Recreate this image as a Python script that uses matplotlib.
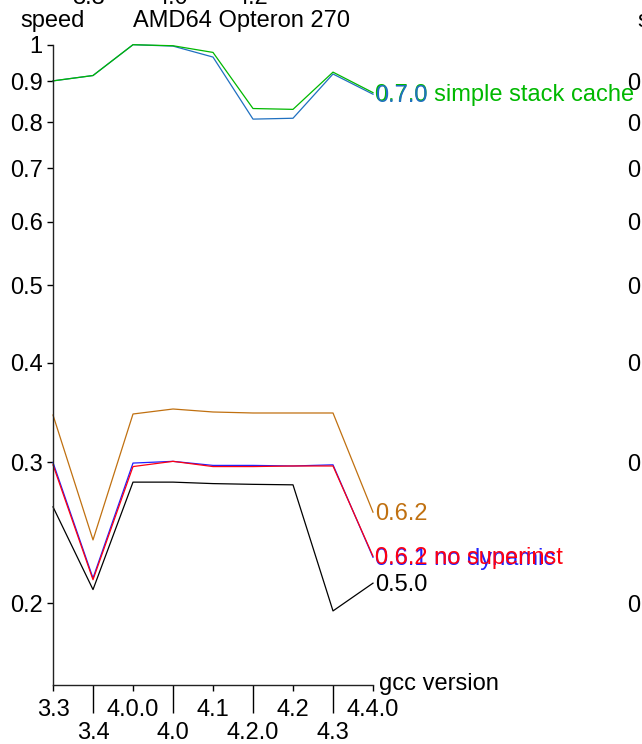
import matplotlib
matplotlib.use("Agg")
from matplotlib import pyplot as plt
from matplotlib.ticker import NullLocator

plt.rcParams['font.family'] = ['Liberation Sans', 'DejaVu Sans']
plt.rcParams['font.size'] = 17

# gcc versions on the x axis (alternating rows of labels)
versions = ['3.3', '3.4', '4.0.0', '4.0', '4.1', '4.2.0', '4.2', '4.3', '4.4.0']

# relative speed per interpreter version
v050 = [0.264, 0.208, 0.2835, 0.2835, 0.2823, 0.2817, 0.2813, 0.1956, 0.2119]
v061_nodyn = [0.300, 0.215, 0.2995, 0.301, 0.2975, 0.2975, 0.297, 0.298, 0.2283]
v062_nosuper = [0.298, 0.214, 0.2965, 0.301, 0.2965, 0.2965, 0.297, 0.297, 0.2290]
v062 = [0.344, 0.240, 0.345, 0.350, 0.347, 0.346, 0.346, 0.346, 0.260]
v070 = [0.901, 0.915, 1.0, 0.996, 0.965, 0.807, 0.809, 0.919, 0.867]
v070_ssc = [0.901, 0.915, 1.0, 0.997, 0.978, 0.832, 0.830, 0.924, 0.871]

series = [
    ('0.5.0', v050, '#000000'),
    ('0.6.2', v062, '#c07010'),
    ('0.6.1 no dynamic', v061_nodyn, '#2020ff'),
    ('0.6.2 no superinst', v062_nosuper, '#ff0010'),
    ('0.7.0', v070, '#1f70c0'),
    ('0.7.0 simple stack cache', v070_ssc, '#00b800'),
]

yticks = [0.2, 0.3, 0.4, 0.5, 0.6, 0.7, 0.8, 0.9, 1.0]
ytick_labels = ['0.2', '0.3', '0.4', '0.5', '0.6', '0.7', '0.8', '0.9', '1']

# labels of the panel above, only their bottoms reach into this figure
top_labels = ['3.3', '4.0', '4.2']
top_label_x = [88, 172, 252]

W, H = 642, 744
fig = plt.figure(figsize=(W / 100, H / 100), dpi=100)


def setup_axes(ax):
    ax.set_yscale('log')
    ax.set_ylim(0.158, 1.0)
    ax.set_xlim(0, len(versions) - 1)
    for side in ['top', 'right']:
        ax.spines[side].set_visible(False)
    for side in ['left', 'bottom']:
        ax.spines[side].set_linewidth(1.0)
        ax.spines[side].set_color('#222222')
    ax.set_yticks(yticks)
    ax.set_yticklabels(ytick_labels)
    ax.yaxis.set_minor_locator(NullLocator())
    ax.tick_params(axis='y', which='major', length=4.3, width=1.0, pad=3.0)

    idx = list(range(len(versions)))
    ax.set_xticks(idx[0::2])
    ax.set_xticklabels(versions[0::2])
    ax.set_xticks(idx[1::2], minor=True)
    ax.set_xticklabels(versions[1::2], minor=True)
    ax.tick_params(axis='x', which='major', length=4.3, width=1.0, pad=5.5)
    ax.tick_params(axis='x', which='minor', length=20.5, width=1.0, pad=6.0,
                   labelsize=17)

    ax.annotate('speed', (0, 1), xycoords=('data', 'axes fraction'),
                xytext=(0, 17.4), textcoords='offset pixels',
                ha='center', va='baseline', annotation_clip=False)


ax = fig.add_axes([53 / W, 59 / H, 320 / W, 640.3 / H])
setup_axes(ax)

x = list(range(len(versions)))
for name, vals, color in series:
    ax.plot(x, vals, color=color, lw=0.9, clip_on=False)

# end-of-line labels, blue ones drawn over their twins
label_order = [0, 1, 5, 4, 2, 3]
for i in label_order:
    name, vals, color = series[i]
    ax.annotate(name, (x[-1], vals[-1]), xytext=(2, -8.2),
                textcoords='offset pixels', color=color,
                ha='left', va='baseline', annotation_clip=False)

ax.annotate('gcc version', (x[-1], 0), xycoords=('data', 'axes fraction'),
            xytext=(6, -5), textcoords='offset pixels',
            ha='left', va='baseline', annotation_clip=False)
ax.annotate('AMD64 Opteron 270', (2, 1), xycoords=('data', 'axes fraction'),
            xytext=(0, 17.4), textcoords='offset pixels',
            ha='left', va='baseline', annotation_clip=False)

# neighbouring panel to the right, mostly outside the canvas
ax2 = fig.add_axes([670 / W, 59 / H, 320 / W, 640.3 / H])
setup_axes(ax2)

for lab, px in zip(top_labels, top_label_x):
    fig.text(px / W, 1 - 3.5 / H, lab, ha='center', va='baseline')

fig.savefig('out.png', dpi=100)
